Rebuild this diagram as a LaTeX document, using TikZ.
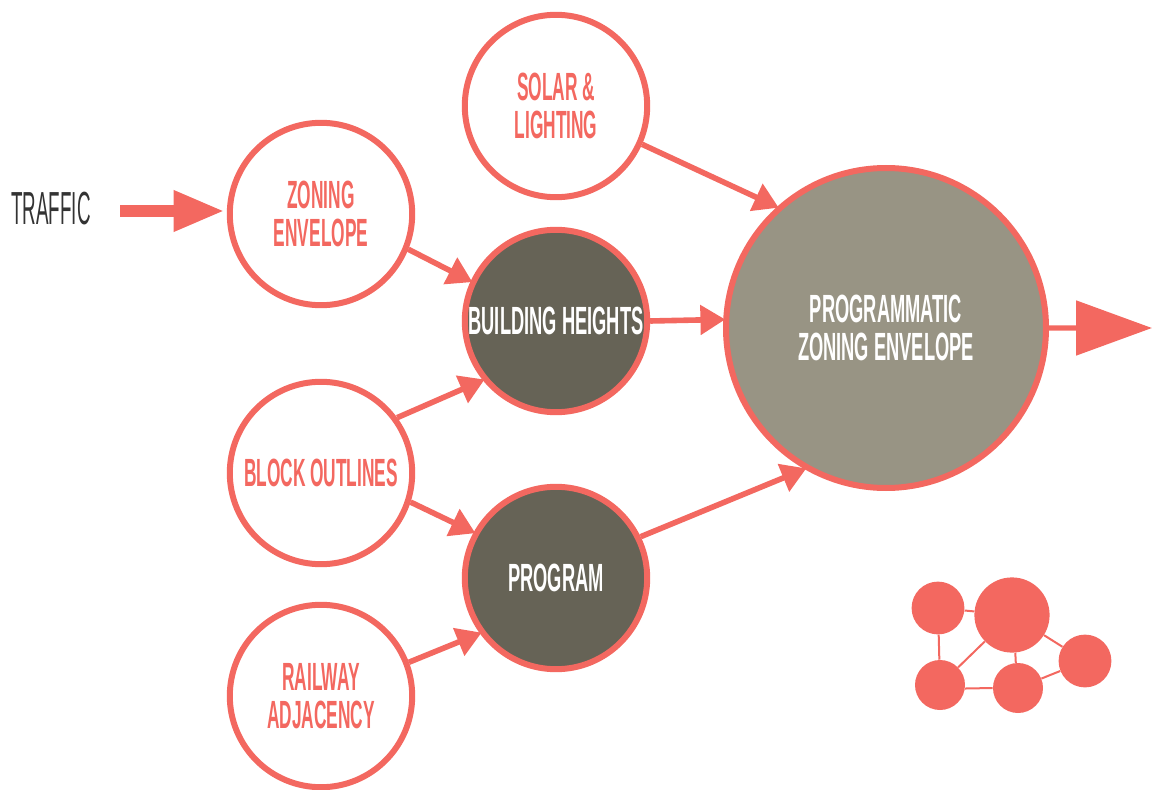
\documentclass[tikz,border=0pt]{standalone}
\usepackage{fontspec}
\usepackage{tikz}
\usetikzlibrary{positioning,arrows.meta}
\setmainfont{Liberation Sans}
\newfontfamily\LabelFont[FakeStretch=0.44]{Liberation Sans Bold}
\newfontfamily\WhiteFont[FakeStretch=0.465]{Liberation Sans Bold}
\newfontfamily\ThinFont[FakeStretch=0.405]{Liberation Sans}
\definecolor{salmon}{HTML}{F36860}
\definecolor{darkfill}{HTML}{666356}
\definecolor{greyfill}{HTML}{989484}
\tikzset{
  input/.style={circle, on grid, draw=salmon, line width=0.15cm, minimum size=4.56cm, inner sep=0pt, text=salmon, align=center, font=\LabelFont\fontsize{28}{27}\selectfont},
  inner/.style={input, fill=darkfill, text=white, font=\WhiteFont\fontsize{28}{27}\selectfont},
  dot/.style={circle, on grid, fill=salmon, inner sep=0pt},
  link/.style={salmon, line width=0.14cm, shorten >=-0.05cm, -{Triangle[length=0.62cm,width=0.72cm]}},
  thin link/.style={salmon, line width=0.05cm}
}
\begin{document}
\begin{tikzpicture}
      \path[use as bounding box] (0,0) rectangle (28.8,-19.75);
      \node[inner] (Heights) at (13.9,-8.025) {BUILDING HEIGHTS};
      \node[input, above=5.375cm of Heights] (Solar) {SOLAR \&\\LIGHTING};
      \node[inner, below=6.425cm of Heights] (Program) {PROGRAM};
      \node[input, above left=2.675cm and 5.875cm of Heights] (Zoning) {ZONING\\ENVELOPE};
      \node[input, below left=3.8cm and 5.875cm of Heights] (Block) {BLOCK OUTLINES};
      \node[input, below left=2.95cm and 5.875cm of Program] (Railway) {RAILWAY\\ADJACENCY};
      \node[inner, fill=greyfill, minimum size=8cm, below right=0.175cm and 8.25cm of Heights] (Envelope) {PROGRAMMATIC\\ZONING ENVELOPE};
      \node[on grid, above left=0.125cm and 6.75cm of Zoning, text=black!80, font=\ThinFont\fontsize{33}{34}\selectfont] (Traffic) {TRAFFIC};
      \coordinate (TrafficStart) at (3,-5.275);
      \coordinate (OutEnd) at (28.8,-8.2);
      \draw[link] (Zoning.-22) -- (Heights.155);
      \draw[link] (Solar.-24) -- (Envelope.132);
      \draw[link] (Heights.east) -- (Envelope.177.4);
      \draw[link] (Block.36) -- (Heights.219.7);
      \draw[link] (Block.-18) -- (Program.151);
      \draw[link] (Railway.21) -- (Program.216);
      \draw[link] (Program.26) -- (Envelope.240);
      \draw[salmon, line width=0.31cm, -{Triangle[length=1.28cm,width=0.95cm]}, shorten >=0.05cm] (TrafficStart) -- (TrafficStart -| Zoning.west);
      \draw[salmon, line width=0.13cm, -{Triangle[length=1.9cm,width=1.35cm]}] (Envelope.east) -- (OutEnd);
      % small network
      \node[dot, minimum size=1.88cm] (Hub) at (25.3,-15.375) {};
      \node[dot, minimum size=1.32cm, left=1.85cm of Hub, yshift=0.175cm] (DotA) {};
      \node[dot, minimum size=1.32cm, below right=1.15cm and 1.825cm of Hub] (DotC) {};
      \node[dot, minimum size=1.25cm, below right=1.825cm and 0.15cm of Hub] (DotD) {};
      \node[dot, minimum size=1.25cm, below left=1.75cm and 1.8cm of Hub] (DotE) {};
      \draw[thin link] (DotA) -- (Hub);
      \draw[thin link] (DotA) -- (DotE);
      \draw[thin link] (Hub) -- (DotE);
      \draw[thin link] (Hub.-85) -- (DotD.95);
      \draw[thin link] (Hub) -- (DotC);
      \draw[thin link] (DotC) -- (DotD);
      \draw[thin link] (DotE.-8) -- (DotD.180);
    \end{tikzpicture}
\end{document}
